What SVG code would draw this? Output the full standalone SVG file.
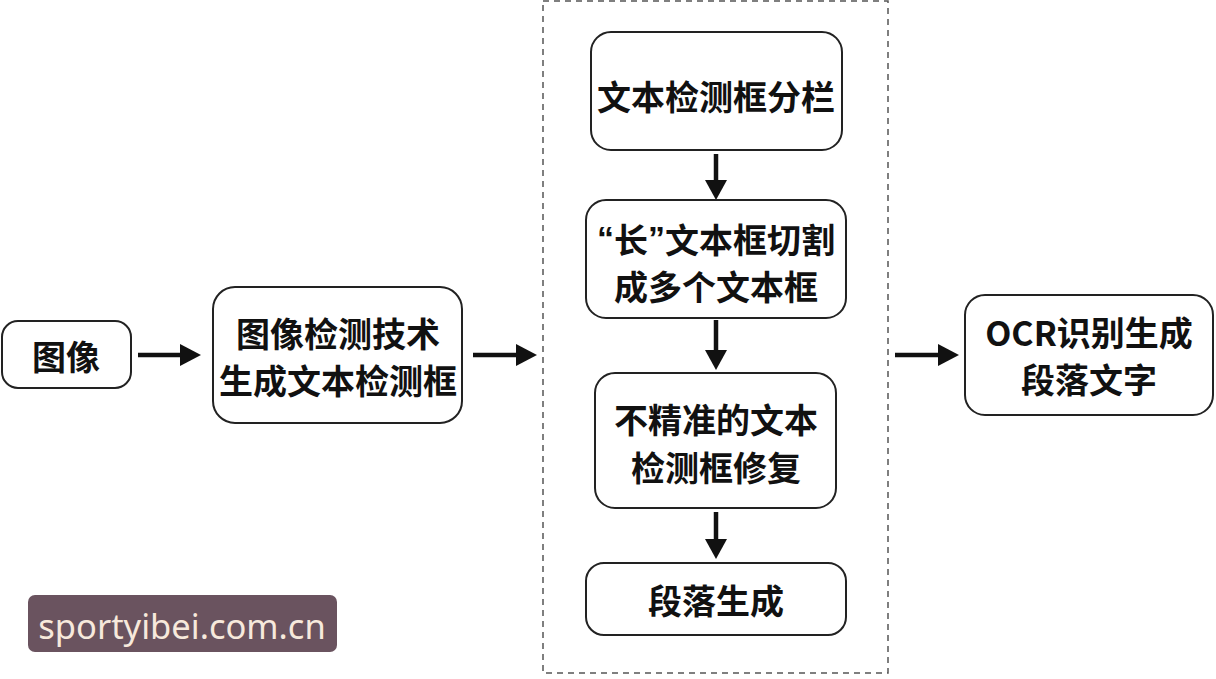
<svg xmlns="http://www.w3.org/2000/svg" width="1216" height="679" viewBox="0 0 1216 679">
<defs>
<style>
.box{fill:#fff;stroke:#222;stroke-width:2}
.t{font-family:"Noto Sans CJK SC","Noto Sans",sans-serif;font-weight:bold;font-size:34px;fill:#111;text-anchor:middle;dominant-baseline:central}
.q{font-family:"Liberation Sans",sans-serif;font-weight:bold}
.c{stroke:#111;stroke-width:4.5;fill:none}
.ah{fill:#111}
</style>
</defs>
<rect width="1216" height="679" fill="#fff"/>
<rect x="543" y="1" width="345" height="672" fill="none" stroke="#555" stroke-width="1.5" stroke-dasharray="6,5"/>
<g id="connectors">
<line class="c" x1="138" y1="355" x2="182" y2="355"/><polygon class="ah" points="180,344 201,355 180,366"/>
<line class="c" x1="473" y1="355" x2="518" y2="355"/><polygon class="ah" points="516,344 537,355 516,366"/>
<line class="c" x1="895" y1="355" x2="940" y2="355"/><polygon class="ah" points="938,344 959,355 938,366"/>
<line class="c" x1="716" y1="154" x2="716" y2="182"/><polygon class="ah" points="705,180 716,200 727,180"/>
<line class="c" x1="716" y1="320" x2="716" y2="352"/><polygon class="ah" points="705,350 716,370 727,350"/>
<line class="c" x1="716" y1="512" x2="716" y2="541"/><polygon class="ah" points="705,539 716,559 727,539"/>
</g>
<g id="n-image"><rect class="box" x="2" y="321" width="129" height="67" rx="16"/><text class="t" x="66" y="355">图像</text></g>
<g id="n-detect"><rect class="box" x="213" y="287" width="249" height="136" rx="22"/><text class="t" x="338" y="332">图像检测技术</text><text class="t" x="338" y="379">生成文本检测框</text></g>
<g id="n-column"><rect class="box" x="591" y="32" width="251" height="118" rx="20"/><text class="t" x="716" y="95">文本检测框分栏</text></g>
<g id="n-split"><rect class="box" x="586" y="200" width="260" height="118" rx="20"/><text class="t" x="716" y="238"><tspan class="q">“</tspan>长<tspan class="q">”</tspan>文本框切割</text><text class="t" x="716" y="285">成多个文本框</text></g>
<g id="n-fix"><rect class="box" x="595" y="373" width="241" height="135" rx="20"/><text class="t" x="716" y="418">不精准的文本</text><text class="t" x="716" y="466">检测框修复</text></g>
<g id="n-para"><rect class="box" x="586" y="563" width="260" height="72" rx="18"/><text class="t" x="716" y="599">段落生成</text></g>
<g id="n-ocr"><rect class="box" x="965" y="295" width="248" height="120" rx="20"/><text class="t" x="1089" y="331">OCR识别生成</text><text class="t" x="1089" y="378">段落文字</text></g>
<g id="watermark"><rect x="28" y="595" width="309" height="57" rx="7" fill="#6a535f"/><text x="182" y="639" font-family="'Noto Sans',sans-serif" font-size="34.5" fill="#f7e9dc" text-anchor="middle">sportyibei.com.cn</text></g>
</svg>
